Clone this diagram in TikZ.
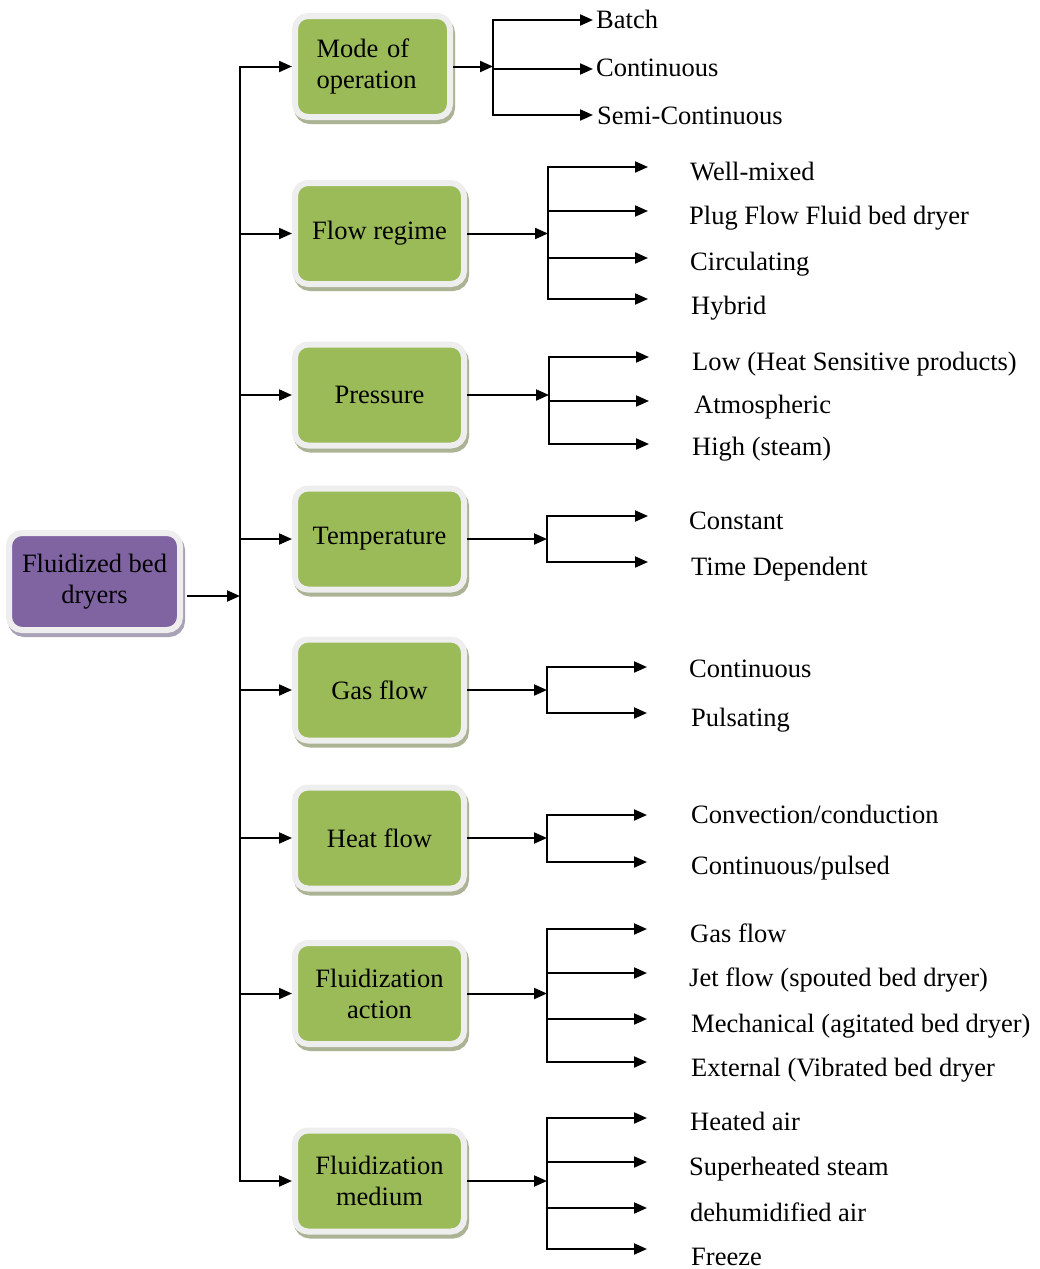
\documentclass[tikz,border=0pt]{standalone}
\usepackage{fontspec}
\setmainfont{Liberation Serif}
\usetikzlibrary{arrows.meta}

\definecolor{leaf}{HTML}{9BBB59}
\definecolor{plum}{HTML}{8064A2}
\definecolor{rim}{HTML}{EEEEEE}
\definecolor{leafshade}{HTML}{ABB394}
\definecolor{plumshade}{HTML}{A9A1B5}
\newcommand\labfont{\fontsize{26.5}{31}\selectfont}

% one category box fanning out to its list of options
% #1 box name, #2 x of the fork line, #3 x of the arrow tips,
% #4 list of  branch y / label x / label baseline / label text
\newcommand\fanout[4]{%
  \coordinate (#1fork) at (#2,0 |- #1);
  \draw[arr] (#1.east) -- (#1fork);
  \foreach \y/\lx/\bl/\t [count=\i] in {#4} {
    \coordinate (#1b\i) at (#2,\y);
    \coordinate (#1t\i) at (#3,\y);
    \draw[arr] (#1b\i) -- (#1t\i);
    \node[item] (#1l\i) at (\lx,\bl) {\t};
    \xdef\fanlast{\i}
  }
  \draw[link, line cap=rect] (#1b1) -- (#1b\fanlast);
}

\begin{document}
\begin{tikzpicture}[x=1pt,y=-1pt,
  box/.style={draw=rim, line width=6pt, rounded corners=13pt, align=center,
    inner sep=0pt, font=\labfont, text=black, minimum height=101pt,
    preaction={draw=#1, fill=#1, line width=6pt,
      transform canvas={shift={(2pt,-4pt)}}}},
  catbox/.style={box=leafshade, fill=leaf, minimum width=169pt},
  rootbox/.style={box=plumshade, fill=plum, minimum width=171pt, minimum height=97pt},
  item/.style={anchor=base west, inner sep=0pt, font=\labfont},
  link/.style={line width=2pt},
  arr/.style={link, -{Triangle[length=13pt,width=11pt]}},
]
\useasboundingbox (0,0) rectangle (1040,1269);

% root and category boxes
\node[rootbox] (root) at (94.5,581.5) {Fluidized bed\\dryers};
\node[catbox, minimum width=155pt, text width=112pt, align=left] (mode) at (372.5,66.5) {Mode of\\operation};
\node[catbox] (flow)   at (379.5,233.5) {Flow regime};
\node[catbox] (press)  at (379.5,395)   {Pressure};
\node[catbox] (temp)   at (379.5,539)   {Temperature};
\node[catbox] (gas)    at (379.5,690)   {Gas flow};
\node[catbox] (heat)   at (379.5,838)   {Heat flow};
\node[catbox] (action) at (379.5,993.5) {Fluidization\\action};
\node[catbox] (medium) at (379.5,1181)  {Fluidization\\medium};

% main spine
\coordinate (hub) at (240,596);
\draw[arr, shorten <=4pt] (root.east |- hub) -- (hub);
\draw[link, line cap=rect] (hub |- mode) -- (hub |- medium);
\foreach \b in {mode,flow,press,temp,gas,heat,action,medium}
  \draw[arr] (hub |- \b) -- (\b.west);

% option fans
\fanout{mode}{493}{593}{20/596/28/{Batch}, 69/596/76/{Continuous}, 115/597/124/{Semi-Continuous}}
\fanout{flow}{548}{648}{167/690/180/{Well-mixed}, 211/689/224/{Plug Flow Fluid bed dryer}, 258/690/270/{Circulating}, 299/691/314/{Hybrid}}
\fanout{press}{549}{649}{357/692/370/{Low (Heat Sensitive products)}, 401/694/413/{Atmospheric}, 444/692/455/{High (steam)}}
\fanout{temp}{547}{648}{516/689/529/{Constant}, 562/691/575/{Time Dependent}}
\fanout{gas}{547}{647}{667/689/677/{Continuous}, 713/691/726/{Pulsating}}
\fanout{heat}{547}{647}{815/691/823/{Convection/conduction}, 862/691/874/{Continuous/pulsed}}
\fanout{action}{547}{647}{929/690/942/{Gas flow}, 973/689/986/{Jet flow (spouted bed dryer)}, 1019/691/1032/{Mechanical (agitated bed dryer)}, 1062/691/1076/{External (Vibrated bed dryer}}
\fanout{medium}{547}{647}{1118/690/1130/{Heated air}, 1162/689/1175/{Superheated steam}, 1208/690/1221/{dehumidified air}, 1249/691/1265/{Freeze}}
\end{tikzpicture}
\end{document}
